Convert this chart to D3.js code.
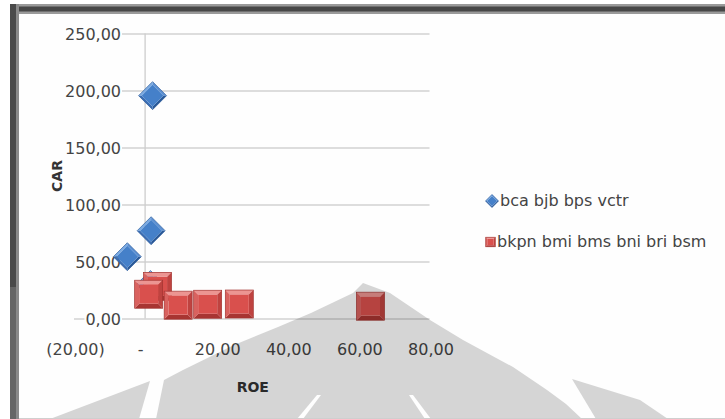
<!DOCTYPE html>
<html>
<head>
<meta charset="utf-8">
<script src="https://cdn.jsdelivr.net/npm/d3@7"></script>
<style>
  html, body { margin: 0; padding: 0; background: #ffffff; }
  svg { display: block; font-family: "DejaVu Sans", sans-serif; }
</style>
</head>
<body>
<svg id="chart" width="725" height="419"></svg>
<script>
// ROE (x) versus CAR (y) for two groups of banks
const seriesNames = ["bca bjb bps vctr", "bkpn bmi bms bni bri bsm"];
const groupA_roe = [2.1, 1.7, -5.0, 1.5];
const groupA_car = [195.5, 77.0, 54.2, 29.8];
const groupB_roe = [3.5, 1.0, 9.3, 17.6, 26.5, 63.4];
const groupB_car = [28.2, 21.3, 11.7, 12.5, 12.7, 10.8];
const xTicks = [-20, 0, 20, 40, 60, 80];
const yTicks = [0, 50, 100, 150, 200, 250];
const xTitle = "ROE";
const yTitle = "CAR";

const svg = d3.select("#chart");

// number format with comma decimals, negatives in parentheses
const loc = d3.formatLocale({ decimal: ",", thousands: ".", grouping: [3], currency: ["", ""] });
const f2 = loc.format(",.2f");
const yFmt = v => f2(v);
const xFmt = v => v === 0 ? "-" : (v < 0 ? "(" + f2(-v) + ")" : f2(v));

const x = d3.scaleLinear().domain([-20, 80]).range([74, 429.5]);
const y = d3.scaleLinear().domain([0, 250]).range([318.5, 33.5]);

// ---- frame ----
const frame = svg.append("g");
frame.append("rect").attr("x", 10).attr("y", 4).attr("width", 715).attr("height", 10).attr("fill", "#9a9a9a");
frame.append("rect").attr("x", 10).attr("y", 6.5).attr("width", 715).attr("height", 5).attr("fill", "#474747");
frame.append("rect").attr("x", 10).attr("y", 4).attr("width", 9).attr("height", 415).attr("fill", "#8a8a8a");
frame.append("rect").attr("x", 10).attr("y", 4).attr("width", 6).attr("height", 283).attr("fill", "#4a4a4a");
frame.append("rect").attr("x", 10).attr("y", 287).attr("width", 6).attr("height", 132).attr("fill", "#666666");
frame.append("rect").attr("x", 19).attr("y", 14).attr("width", 706).attr("height", 405).attr("fill", "#fefefe");

// ---- gridlines and y labels ----
const plotW = x(80) - x(-20);
const yAxis = svg.append("g")
  .attr("transform", `translate(${x(-20)},0)`)
  .call(d3.axisLeft(y).tickValues(yTicks).tickFormat(yFmt).tickSize(-plotW).tickPadding(0));
yAxis.select(".domain").remove();
yAxis.selectAll(".tick line").attr("stroke", "#d2d2d2").attr("stroke-width", 1.3);
yAxis.selectAll(".tick text")
  .attr("x", 121 - x(-20))
  .attr("dy", "0.36em")
  .attr("text-anchor", "end")
  .attr("font-size", 16)
  .attr("font-family", "DejaVu Sans, sans-serif")
  .attr("fill", "#444");
// white backing behind each y label (hides the gridline under the text)
yAxis.selectAll(".tick").each(function () {
  const t = d3.select(this).select("text");
  const bb = t.node().getBBox();
  d3.select(this).insert("rect", "text")
    .attr("x", bb.x - 1).attr("y", bb.y + 2)
    .attr("width", bb.width + 2).attr("height", bb.height - 4)
    .attr("fill", "#fefefe");
});

// vertical value axis at ROE = 0
svg.append("line")
  .attr("x1", x(0)).attr("x2", x(0))
  .attr("y1", y(250)).attr("y2", y(0))
  .attr("stroke", "#cccccc").attr("stroke-width", 1.3);

// ---- x labels ----
const xAxis = svg.append("g")
  .attr("transform", `translate(0,${y(0)})`)
  .call(d3.axisBottom(x).tickValues(xTicks).tickFormat(xFmt).tickSize(0).tickPadding(0));
xAxis.select(".domain").remove();
xAxis.selectAll(".tick text")
  .attr("y", 355 - y(0))
  .attr("dy", 0)
  .attr("dx", d => d === 0 ? -5 : 1)
  .attr("font-size", 16)
  .attr("font-family", "DejaVu Sans, sans-serif")
  .attr("fill", "#444");

// ---- axis titles ----
svg.append("text")
  .attr("x", (x(-20) + x(80)) / 2 + 1).attr("y", 392)
  .attr("text-anchor", "middle")
  .attr("font-size", 14).attr("font-weight", "bold")
  .attr("fill", "#333")
  .text(xTitle);
svg.append("text")
  .attr("transform", `translate(62,${(y(0) + y(250)) / 2}) rotate(-90)`)
  .attr("text-anchor", "middle")
  .attr("font-size", 14).attr("font-weight", "bold")
  .attr("fill", "#333")
  .text(yTitle);

// ---- bevelled markers ----
function diamond(g, cx, cy, r) {
  const b = r * 0.22;
  const T = [cx, cy - r], R = [cx + r, cy], B = [cx, cy + r], L = [cx - r, cy];
  const t = [cx, cy - r + b], rr = [cx + r - b, cy], bb = [cx, cy + r - b], l = [cx - r + b, cy];
  const poly = (pts, fill) => g.append("path").attr("d", "M" + pts.map(p => p.join(",")).join("L") + "Z").attr("fill", fill);
  poly([L, T, t, l], "#7aaae3");
  poly([T, R, rr, t], "#5b8fd2");
  poly([R, B, bb, rr], "#2a5998");
  poly([B, L, l, bb], "#3a6cb2");
  poly([t, rr, bb, l], "#4580c9");
  g.append("path").attr("d", "M" + [T, R, B, L].map(p => p.join(",")).join("L") + "Z")
    .attr("fill", "none").attr("stroke", "#2f5e9e").attr("stroke-width", 0.7);
}
function square(g, cx, cy, s) {
  const h = s / 2, b = s * 0.16;
  const o = [[cx - h, cy - h], [cx + h, cy - h], [cx + h, cy + h], [cx - h, cy + h]];
  const i = [[cx - h + b, cy - h + b], [cx + h - b, cy - h + b], [cx + h - b, cy + h - b], [cx - h + b, cy + h - b]];
  const poly = (pts, fill) => g.append("path").attr("d", "M" + pts.map(p => p.join(",")).join("L") + "Z").attr("fill", fill);
  poly([o[0], o[1], i[1], i[0]], "#ec9592");
  poly([o[1], o[2], i[2], i[1]], "#bf4340");
  poly([o[2], o[3], i[3], i[2]], "#a83532");
  poly([o[3], o[0], i[0], i[3]], "#d9625f");
  poly(i, "#d9504d");
  g.append("rect").attr("x", cx - h).attr("y", cy - h).attr("width", s).attr("height", s)
    .attr("fill", "none").attr("stroke", "#a33431").attr("stroke-width", 0.7);
}

const A = groupA_roe.map((v, k) => ({ roe: v, car: groupA_car[k] }));
const B = groupB_roe.map((v, k) => ({ roe: v, car: groupB_car[k] }));

const gA = svg.append("g");
A.forEach(d => diamond(gA, x(d.roe), y(d.car), 14));
const gB = svg.append("g");
B.forEach(d => square(gB, x(d.roe), y(d.car), 28));

// ---- legend ----
const leg = svg.append("g");
diamond(leg, 492, 201, 6.5);
leg.append("text").attr("x", 500).attr("y", 206).attr("font-size", 16).attr("fill", "#444").text(seriesNames[0]);
square(leg, 490.5, 242, 9.5);
leg.append("text").attr("x", 497).attr("y", 247).attr("font-size", 16).attr("fill", "#444").text(seriesNames[1]);

// ---- faint emblem watermark printed over the page ----
const wm = svg.append("g").attr("opacity", 0.155);
const shape = (pts, fill) => wm.append("path").attr("d", "M" + pts.map(p => p.join(",")).join("L") + "Z").attr("fill", fill);
shape([[363, 283], [390, 293], [430, 320], [463, 340], [513, 367], [547, 390], [566, 404], [582, 419],
       [156, 419], [164, 380], [183, 370], [234, 345], [278, 327], [311, 313], [353, 293]], "#000");
shape([[50, 419], [150, 381], [139, 419]], "#000");
shape([[572, 379], [640, 400], [668, 419], [596, 419]], "#000");
shape([[317, 395], [321, 395], [303, 419], [297, 419]], "#fff");
shape([[409, 395], [413, 395], [431, 419], [425, 419]], "#fff");
svg.append("line").attr("x1", 19).attr("x2", 725).attr("y1", 418.5).attr("y2", 418.5)
  .attr("stroke", "#cfcfcf").attr("stroke-width", 1);
</script>
</body>
</html>
